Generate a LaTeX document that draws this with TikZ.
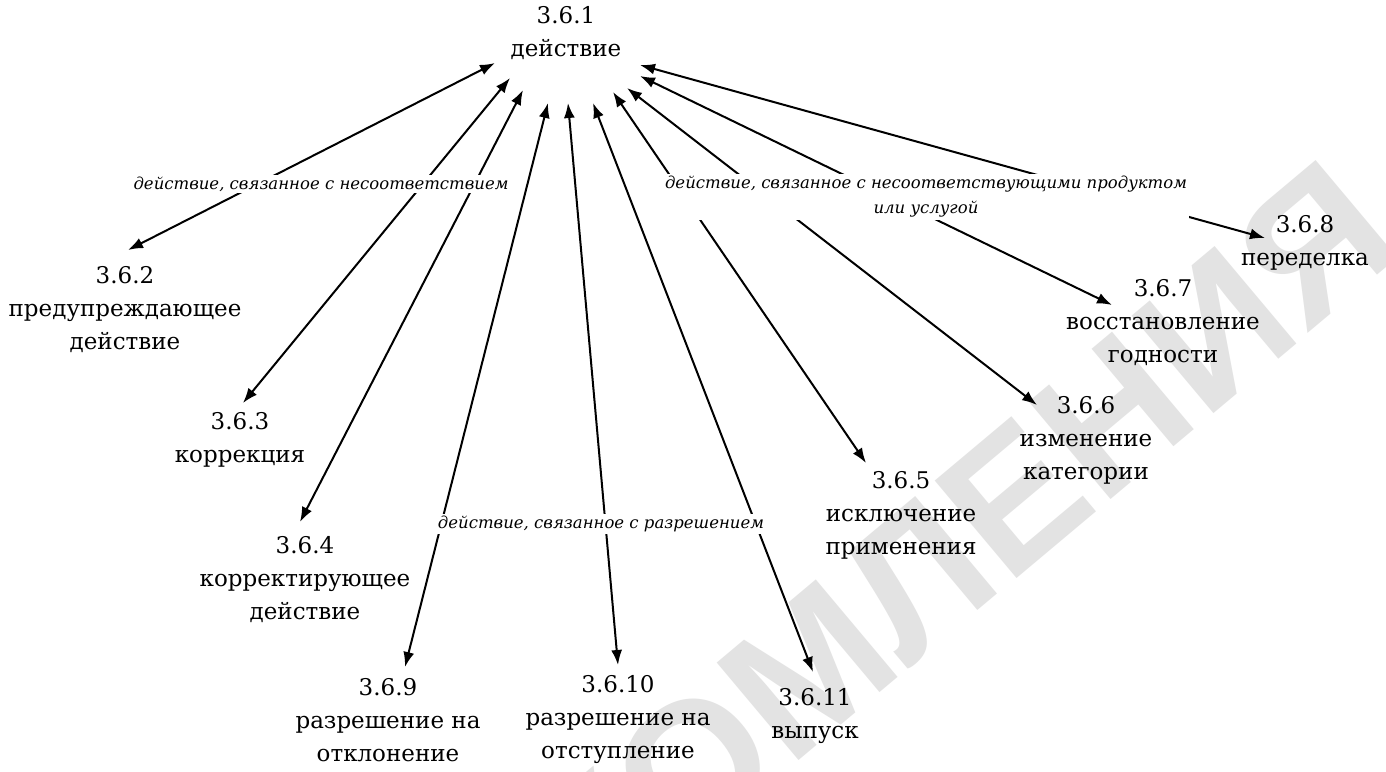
\documentclass[tikz,border=0pt]{standalone}
\usepackage{fontspec}
\setmainfont{DejaVu Serif}
\newfontfamily\markfont{Liberation Sans}
\usetikzlibrary{arrows.meta}
\tikzset{
  term/.style={align=center, inner sep=0pt, font=\fontsize{23}{33}\selectfont},
  rel/.style={align=center, fill=white, inner sep=2pt, font=\itshape\fontsize{16.5}{25}\selectfont},
  link/.style={line width=2pt, {Latex[length=15pt,width=11pt]}-{Latex[length=15pt,width=11pt]}},
}
\begin{document}
\begin{tikzpicture}[x=1pt,y=-1pt]
\useasboundingbox (0,0) rectangle (1386,771);
\fill[white] (0,0) rectangle (1386,771);

% faint background stamp
\node[rotate=40, anchor=base east, inner sep=0pt, text=black!11,
      font=\markfont\bfseries\fontsize{185}{185}\selectfont] (stamp) at (1408,250) {ОЗНАКОМЛЕНИЯ};

% terms
\node[term] (n1)  at (566,33)  {3.6.1\\действие};
\node[term] (n2)  at (125,310) {3.6.2\\предупреждающее\\действие};
\node[term] (n3)  at (240,440) {3.6.3\\коррекция};
\node[term] (n4)  at (305,580) {3.6.4\\корректирующее\\действие};
\node[term] (n5)  at (901,515) {3.6.5\\исключение\\применения};
\node[term] (n6)  at (1086,440) {3.6.6\\изменение\\категории};
\node[term] (n7)  at (1163,323) {3.6.7\\восстановление\\годности};
\node[term] (n8)  at (1305,243) {3.6.8\\переделка};
\node[term] (n9)  at (388,720) {3.6.9\\разрешение на\\отклонение};
\node[term] (n10) at (618,720) {3.6.10\\разрешение на\\отступление};
\node[term] (n11) at (815,716) {3.6.11\\выпуск};

% connector ends next to 3.6.1
\coordinate (s2)  at (495,63);
\coordinate (s3)  at (510,78);
\coordinate (s4)  at (523,90);
\coordinate (s9)  at (548,103);
\coordinate (s10) at (568,103);
\coordinate (s11) at (593,103);
\coordinate (s5)  at (613,92);
\coordinate (s6)  at (627,88);
\coordinate (s7)  at (640,76);
\coordinate (s8)  at (640,65);
% connector ends next to the related terms
\coordinate (e2)  at (128,250);
\coordinate (e3)  at (243,403);
\coordinate (e4)  at (300,522);
\coordinate (e9)  at (405,667);
\coordinate (e10) at (618,665);
\coordinate (e11) at (813,672);
\coordinate (e5)  at (866,463);
\coordinate (e6)  at (1037,405);
\coordinate (e7)  at (1112,305);
\coordinate (e8)  at (1265,238);

\foreach \k in {2,3,4,9,10,11,5,6,7,8}
  \draw[link] (s\k) -- (e\k);

% relation labels over the connectors
\node[rel] (r1) at (321,184) {действие, связанное с несоответствием};
\node[rel] (r2) at (926,197) {действие, связанное с несоответствующими продуктом\\или услугой};
\node[rel] (r3) at (601,524) {действие, связанное с разрешением};
\end{tikzpicture}
\end{document}
